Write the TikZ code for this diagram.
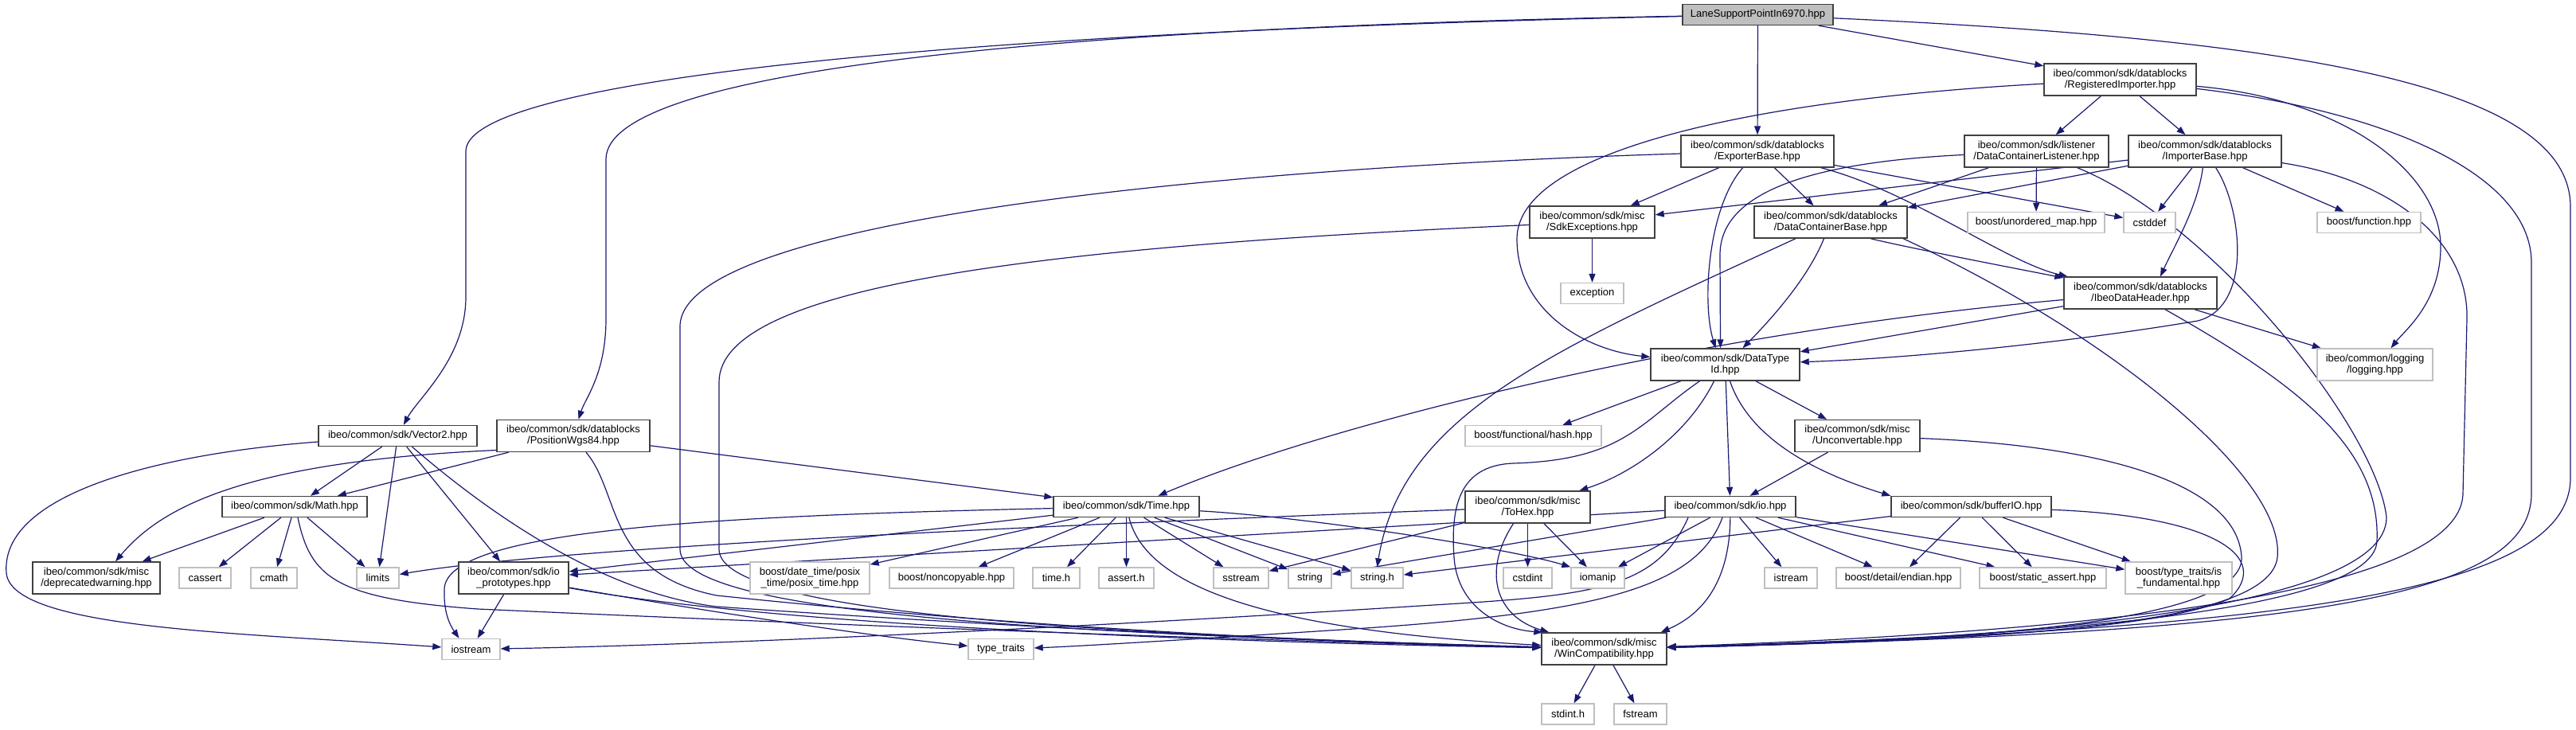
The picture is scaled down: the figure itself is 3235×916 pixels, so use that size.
\documentclass[tikz,border=0pt]{standalone}
\usepackage{fontspec}
\setmainfont{Liberation Sans}
\usetikzlibrary{arrows.meta}
\definecolor{edgec}{HTML}{191970}
\definecolor{docb}{HTML}{404040}
\definecolor{extb}{HTML}{BFBFBF}
\definecolor{curf}{HTML}{BFBFBF}
\pgfdeclarelayer{bg}
\pgfsetlayers{bg,main}
\tikzset{
 nd/.style={draw=docb, line width=1.4pt, fill=white, inner sep=0pt, align=center, font=\fontsize{13}{14}\selectfont, text=black},
 ex/.style={nd, draw=extb},
 edg/.style={draw=edgec, line width=1.2pt, -{Triangle[length=11pt,width=8pt]}},
}
\begin{document}
\begin{tikzpicture}[x=1pt,y=-1pt]
\useasboundingbox (0,0) rectangle (3235,916);
% nodes
\node[nd, fill=curf, minimum width=189pt, minimum height=26pt] (lane) at (2207.5,18.5) {LaneSupportPointIn6970.hpp};
\node[nd, minimum width=191pt, minimum height=40pt] (regimp) at (2662.5,100) {ibeo/common/sdk/datablocks\\/RegisteredImporter.hpp};
\node[nd, minimum width=192pt, minimum height=40pt] (exporter) at (2207,190) {ibeo/common/sdk/datablocks\\/ExporterBase.hpp};
\node[nd, minimum width=181pt, minimum height=40pt] (dcl) at (2557.5,190) {ibeo/common/sdk/listener\\/DataContainerListener.hpp};
\node[nd, minimum width=192pt, minimum height=40pt] (importer) at (2769,190) {ibeo/common/sdk/datablocks\\/ImporterBase.hpp};
\node[nd, minimum width=157pt, minimum height=40pt] (sdkexc) at (1999.5,279) {ibeo/common/sdk/misc\\/SdkExceptions.hpp};
\node[nd, minimum width=192pt, minimum height=40pt] (dcb) at (2299,279) {ibeo/common/sdk/datablocks\\/DataContainerBase.hpp};
\node[ex, minimum width=172pt, minimum height=26pt] (umap) at (2557,279.5) {boost/unordered\_map.hpp};
\node[ex, minimum width=65pt, minimum height=26pt] (cstddef) at (2699.5,279.5) {cstddef};
\node[ex, minimum width=130pt, minimum height=26pt] (bfunc) at (2975,279.5) {boost/function.hpp};
\node[ex, minimum width=79pt, minimum height=26pt] (exception) at (1999.5,368.5) {exception};
\node[nd, minimum width=192pt, minimum height=40pt] (idh) at (2688,368) {ibeo/common/sdk/datablocks\\/IbeoDataHeader.hpp};
\node[nd, minimum width=187pt, minimum height=40pt] (dtid) at (2166.5,458) {ibeo/common/sdk/DataType\\Id.hpp};
\node[ex, minimum width=145pt, minimum height=40pt] (logging) at (2982.5,458) {ibeo/common/logging\\/logging.hpp};
\node[nd, minimum width=199pt, minimum height=26pt] (vector2) at (499.5,547.5) {ibeo/common/sdk/Vector2.hpp};
\node[nd, minimum width=192pt, minimum height=40pt] (poswgs) at (720,547.5) {ibeo/common/sdk/datablocks\\/PositionWgs84.hpp};
\node[ex, minimum width=171pt, minimum height=26pt] (hash) at (1925.5,547.5) {boost/functional/hash.hpp};
\node[nd, minimum width=157pt, minimum height=40pt] (unconv) at (2332.5,547.5) {ibeo/common/sdk/misc\\/Unconvertable.hpp};
\node[nd, minimum width=182pt, minimum height=26pt] (math) at (370,636.5) {ibeo/common/sdk/Math.hpp};
\node[nd, minimum width=183pt, minimum height=26pt] (time) at (1414.5,636.5) {ibeo/common/sdk/Time.hpp};
\node[nd, minimum width=157pt, minimum height=40pt] (tohex) at (1918.5,637) {ibeo/common/sdk/misc\\/ToHex.hpp};
\node[nd, minimum width=164pt, minimum height=26pt] (io) at (2173,636.5) {ibeo/common/sdk/io.hpp};
\node[nd, minimum width=201pt, minimum height=26pt] (bufio) at (2475.5,636.5) {ibeo/common/sdk/bufferIO.hpp};
\node[nd, minimum width=160pt, minimum height=40pt] (deprec) at (121,726) {ibeo/common/sdk/misc\\/deprecatedwarning.hpp};
\node[ex, minimum width=65pt, minimum height=26pt] (cassert) at (257.5,726) {cassert};
\node[ex, minimum width=58pt, minimum height=26pt] (cmath) at (344,726) {cmath};
\node[ex, minimum width=53pt, minimum height=26pt] (limits) at (474.5,726) {limits};
\node[nd, minimum width=138pt, minimum height=40pt] (ioproto) at (645,726) {ibeo/common/sdk/io\\\_prototypes.hpp};
\node[ex, minimum width=150pt, minimum height=40pt] (posix) at (1017,726) {boost/date\_time/posix\\\_time/posix\_time.hpp};
\node[ex, minimum width=156pt, minimum height=26pt] (noncopy) at (1195,726) {boost/noncopyable.hpp};
\node[ex, minimum width=59pt, minimum height=26pt] (timeh) at (1326.5,726) {time.h};
\node[ex, minimum width=69pt, minimum height=26pt] (asserth) at (1414.5,726) {assert.h};
\node[ex, minimum width=69pt, minimum height=26pt] (sstream) at (1558.5,726) {sstream};
\node[ex, minimum width=54pt, minimum height=26pt] (string) at (1645,726) {string};
\node[ex, minimum width=65pt, minimum height=26pt] (stringh) at (1729.5,726) {string.h};
\node[ex, minimum width=61pt, minimum height=26pt] (cstdint) at (1918.5,726) {cstdint};
\node[ex, minimum width=67pt, minimum height=26pt] (iomanip) at (2006.5,726) {iomanip};
\node[ex, minimum width=66pt, minimum height=26pt] (istream) at (2249,726) {istream};
\node[ex, minimum width=156pt, minimum height=26pt] (endian) at (2384,726) {boost/detail/endian.hpp};
\node[ex, minimum width=159pt, minimum height=26pt] (sassert) at (2565.5,726) {boost/static\_assert.hpp};
\node[ex, minimum width=134pt, minimum height=40pt] (isfund) at (2736,726) {boost/type\_traits/is\\\_fundamental.hpp};
\node[ex, minimum width=73pt, minimum height=26pt] (iostream) at (591.5,815.5) {iostream};
\node[ex, minimum width=82pt, minimum height=26pt] (typetraits) at (1257,815.5) {type\_traits};
\node[nd, minimum width=157pt, minimum height=40pt] (wincompat) at (2014.5,815) {ibeo/common/sdk/misc\\/WinCompatibility.hpp};
\node[ex, minimum width=66pt, minimum height=26pt] (stdinth) at (1969,897) {stdint.h};
\node[ex, minimum width=66pt, minimum height=26pt] (fstream) at (2060,897) {fstream};
\begin{pgfonlayer}{bg}
% LaneSupportPointIn6970
\draw[edg] (lane) .. controls (1200,40) and (585,100) .. (585,190) -- (585,373) .. controls (585,450) and (525,500) .. (vector2);
\draw[edg] (lane) .. controls (1300,35) and (761,90) .. (761,200) -- (761,400) .. controls (761,470) and (735,500) .. (poswgs);
\draw[edg] (lane) -- (exporter);
\draw[edg] (lane) -- (regimp);
\draw[edg] (lane) .. controls (2900,50) and (3228,110) .. (3228,260) -- (3228,600) .. controls (3228,740) and (2900,790) .. (wincompat);
% RegisteredImporter
\draw[edg] (regimp) -- (dcl);
\draw[edg] (regimp) -- (importer);
\draw[edg] (regimp) .. controls (2200,125) and (1905,190) .. (1905,300) .. controls (1905,390) and (1990,440) .. (dtid);
\draw[edg] (regimp) .. controls (2950,125) and (3065,220) .. (3065,310) .. controls (3065,380) and (3020,415) .. ([xshift=20pt]logging.north);
\draw[edg] (regimp) .. controls (3000,140) and (3179,220) .. (3179,330) -- (3179,620) .. controls (3179,750) and (2900,795) .. (wincompat);
% ExporterBase
\draw[edg] (exporter) -- (sdkexc);
\draw[edg] (exporter) -- (dcb);
\draw[edg] (exporter) .. controls (2400,240) and (2520,330) .. (idh);
\draw[edg] (exporter) .. controls (2145,260) and (2137,380) .. ([xshift=-12pt]dtid.north);
\draw[edg] (exporter) -- (cstddef);
\draw[edg] (exporter) .. controls (1500,212) and (854,280) .. (854,410) -- (854,690) .. controls (854,770) and (1300,795) .. (wincompat);
% DataContainerListener
\draw[edg] (dcl) -- (dcb);
\draw[edg] (dcl) -- (umap);
\draw[edg] (dcl) .. controls (2250,205) and (2160,250) .. (2160,320) -- ([xshift=-6pt]dtid.north);
\draw[edg] (dcl) .. controls (2780,280) and (2985,540) .. (2997,650) .. controls (2997,770) and (2500,805) .. (wincompat);
% ImporterBase
\draw[edg] (importer) -- (sdkexc);
\draw[edg] (importer) -- (dcb);
\draw[edg] (importer) .. controls (2760,260) and (2730,310) .. ([xshift=25pt]idh.north);
\draw[edg] (importer) -- (cstddef);
\draw[edg] (importer) -- (bfunc);
\draw[edg] (importer) .. controls (2815,260) and (2830,385) .. (2760,403) .. controls (2600,430) and (2400,450) .. (dtid);
\draw[edg] (importer) .. controls (3000,225) and (3100,300) .. (3098,400) -- (3093,620) .. controls (3090,750) and (2600,795) .. (wincompat);
% SdkExceptions
\draw[edg] (sdkexc) -- (exception);
\draw[edg] (sdkexc) .. controls (1300,310) and (903,360) .. (903,480) -- (903,690) .. controls (903,765) and (1300,795) .. (wincompat);
% DataContainerBase
\draw[edg] (dcb) .. controls (2270,350) and (2225,400) .. ([xshift=22pt]dtid.north);
\draw[edg] ([xshift=50pt]dcb.south) .. controls (2400,312) and (2520,335) .. (idh);
\draw[edg] ([xshift=-44pt]dcb.south) .. controls (1950,440) and (1760,520) .. (stringh.north);
\draw[edg] ([xshift=91pt]dcb.south) .. controls (2650,420) and (2870,600) .. (2860,700) .. controls (2850,790) and (2500,803) .. (wincompat);
% IbeoDataHeader
\draw[edg] (idh) -- (dtid);
\draw[edg] (idh) .. controls (2100,420) and (1650,540) .. ([xshift=40pt]time.north);
\draw[edg] (idh) -- (logging);
\draw[edg] ([xshift=31pt]idh.south) .. controls (2880,480) and (2990,560) .. (2985,680) .. controls (2980,775) and (2500,802) .. (wincompat);
% DataTypeId
\draw[edg] (dtid) -- (hash);
\draw[edg] (dtid) -- (unconv);
\draw[edg] (dtid) -- (io);
\draw[edg] ([xshift=-14pt]dtid.south) .. controls (2120,545) and (2050,595) .. (tohex);
\draw[edg] ([xshift=-32pt]dtid.south) .. controls (2060,530) and (2040,578) .. (1900,582) .. controls (1830,585) and (1822,640) .. (1826,700) .. controls (1830,760) and (1880,790) .. ([xshift=2pt]wincompat.north west);
\draw[edg] ([xshift=6pt]dtid.south) .. controls (2200,560) and (2300,600) .. (bufio.north west);
% Vector2
\draw[edg] (vector2) .. controls (200,570) and (0,620) .. (8,720) .. controls (15,790) and (300,795) .. (iostream);
\draw[edg] (vector2) -- (math);
\draw[edg] (vector2) -- (limits);
\draw[edg] (vector2) -- (ioproto);
\draw[edg] ([xshift=18pt]vector2.south) .. controls (620,650) and (760,745) .. (900,762) .. controls (1300,790) and (1700,808) .. (wincompat);
% PositionWgs84
\draw[edg] ([yshift=-18pt]poswgs.west) .. controls (300,580) and (200,640) .. ([xshift=24pt]deprec.north);
\draw[edg] (poswgs) -- (math);
\draw[edg] ([xshift=16pt]poswgs.south) .. controls (780,620) and (760,720) .. (900,748) .. controls (1300,790) and (1700,808) .. (wincompat);
\draw[edg] (poswgs) -- (time);
% Math
\draw[edg] (math) -- (deprec);
\draw[edg] (math) -- (cassert);
\draw[edg] (math) -- (cmath);
\draw[edg] (math) -- (limits);
\draw[edg] ([xshift=4pt]math.south) .. controls (390,725) and (420,752) .. (600,765) .. controls (1200,792) and (1700,808) .. (wincompat);
% Time
\draw[edg] (time) -- (posix);
\draw[edg] (time) -- (noncopy);
\draw[edg] (time) -- (timeh);
\draw[edg] (time) -- (asserth);
\draw[edg] (time) -- (sstream);
\draw[edg] (time) -- (string);
\draw[edg] (time) -- (stringh);
\draw[edg] (time) .. controls (1650,650) and (1900,690) .. (iomanip.north west);
\draw[edg] (time) .. controls (900,648) and (560,665) .. (558,740) .. controls (557,770) and (565,785) .. ([xshift=-15pt]iostream.north);
\draw[edg] (time) -- (ioproto);
\draw[edg] (time) .. controls (1440,740) and (1600,792) .. (wincompat);
% ToHex
\draw[edg] (tohex) .. controls (1300,660) and (700,688) .. (limits);
\draw[edg] (tohex) -- (sstream);
\draw[edg] (tohex) -- (cstdint);
\draw[edg] (tohex) -- (iomanip);
\draw[edg] ([xshift=-18pt]tohex.south) .. controls (1860,720) and (1880,775) .. ([xshift=10pt]wincompat.north west);
% io
\draw[edg] (io) -- (iomanip);
\draw[edg] (io) -- (istream);
\draw[edg] (io) -- (endian);
\draw[edg] (io) -- (sassert);
\draw[edg] (io) -- (isfund);
\draw[edg] (io) -- (string);
\draw[edg] (io) -- (ioproto);
\draw[edg] ([xshift=-53pt]io.south) .. controls (2080,740) and (2000,748) .. (1800,760) .. controls (1200,798) and (800,812) .. (iostream);
\draw[edg] ([xshift=-10pt]io.south) .. controls (2130,740) and (2000,770) .. (1700,790) .. controls (1500,803) and (1350,812) .. (typetraits);
\draw[edg] (io) .. controls (2172,740) and (2130,775) .. ([xshift=-8pt]wincompat.north east);
% bufferIO
\draw[edg] (bufio) -- (stringh);
\draw[edg] (bufio) -- (endian);
\draw[edg] (bufio) -- (sassert);
\draw[edg] (bufio) -- (isfund);
\draw[edg] (bufio) .. controls (2780,648) and (2855,700) .. (2800,752) .. controls (2700,795) and (2400,806) .. (wincompat);
% Unconvertable
\draw[edg] (unconv) -- (io);
\draw[edg] (unconv) .. controls (2650,560) and (2810,610) .. (2815,700) .. controls (2818,780) and (2500,805) .. (wincompat);
% io_prototypes
\draw[edg] (ioproto) -- (iostream);
\draw[edg] (ioproto) .. controls (900,770) and (1100,800) .. (typetraits);
\draw[edg] (ioproto) .. controls (1000,790) and (1600,808) .. (wincompat);
% WinCompatibility
\draw[edg] (wincompat) -- (stdinth);
\draw[edg] (wincompat) -- (fstream);
\end{pgfonlayer}
\end{tikzpicture}
\end{document}
